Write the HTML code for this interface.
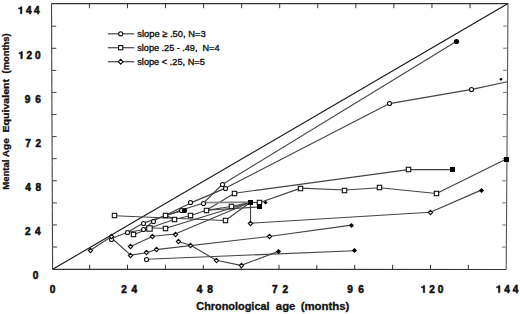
<!DOCTYPE html>
<html><head><meta charset="utf-8"><style>
html,body{margin:0;padding:0;background:#fff;}
body{width:520px;height:314px;overflow:hidden;font-family:"Liberation Sans",sans-serif;}
svg{display:block;}
</style></head><body>
<svg width="520" height="314" viewBox="0 0 520 314">
<rect width="520" height="314" fill="#fff"/>
<line x1="51.50" y1="3.60" x2="508.00" y2="3.60" stroke="#333" stroke-width="1.1"/>
<line x1="52.60" y1="269.30" x2="506.20" y2="269.50" stroke="#333" stroke-width="1.2"/>
<line x1="52.60" y1="269.30" x2="51.50" y2="3.60" stroke="#444" stroke-width="1.1"/>
<line x1="506.20" y1="269.50" x2="508.00" y2="3.60" stroke="#555" stroke-width="1.1"/>
<line x1="89.67" y1="269.32" x2="89.67" y2="264.72" stroke="#333" stroke-width="1.0"/>
<line x1="89.40" y1="3.60" x2="89.40" y2="8.20" stroke="#333" stroke-width="1.0"/>
<line x1="52.51" y1="247.02" x2="57.11" y2="247.02" stroke="#444" stroke-width="1.0"/>
<line x1="506.35" y1="247.10" x2="501.85" y2="247.10" stroke="#777" stroke-width="1.0"/>
<line x1="127.53" y1="269.33" x2="127.53" y2="264.73" stroke="#333" stroke-width="1.0"/>
<line x1="127.46" y1="3.60" x2="127.46" y2="8.20" stroke="#333" stroke-width="1.0"/>
<line x1="52.42" y1="224.94" x2="57.02" y2="224.94" stroke="#444" stroke-width="1.0"/>
<line x1="506.50" y1="225.00" x2="502.00" y2="225.00" stroke="#777" stroke-width="1.0"/>
<line x1="165.40" y1="269.35" x2="165.40" y2="264.75" stroke="#333" stroke-width="1.0"/>
<line x1="165.52" y1="3.60" x2="165.52" y2="8.20" stroke="#333" stroke-width="1.0"/>
<line x1="52.33" y1="202.86" x2="56.93" y2="202.86" stroke="#444" stroke-width="1.0"/>
<line x1="506.65" y1="202.90" x2="502.15" y2="202.90" stroke="#777" stroke-width="1.0"/>
<line x1="203.26" y1="269.37" x2="203.26" y2="264.77" stroke="#333" stroke-width="1.0"/>
<line x1="203.58" y1="3.60" x2="203.58" y2="8.20" stroke="#333" stroke-width="1.0"/>
<line x1="52.23" y1="180.78" x2="56.83" y2="180.78" stroke="#444" stroke-width="1.0"/>
<line x1="506.80" y1="180.80" x2="502.30" y2="180.80" stroke="#777" stroke-width="1.0"/>
<line x1="241.13" y1="269.38" x2="241.13" y2="264.78" stroke="#333" stroke-width="1.0"/>
<line x1="241.64" y1="3.60" x2="241.64" y2="8.20" stroke="#333" stroke-width="1.0"/>
<line x1="52.14" y1="158.70" x2="56.74" y2="158.70" stroke="#444" stroke-width="1.0"/>
<line x1="506.95" y1="158.70" x2="502.45" y2="158.70" stroke="#777" stroke-width="1.0"/>
<line x1="279.00" y1="269.40" x2="279.00" y2="264.80" stroke="#333" stroke-width="1.0"/>
<line x1="279.70" y1="3.60" x2="279.70" y2="8.20" stroke="#333" stroke-width="1.0"/>
<line x1="52.05" y1="136.62" x2="56.65" y2="136.62" stroke="#444" stroke-width="1.0"/>
<line x1="507.10" y1="136.60" x2="502.60" y2="136.60" stroke="#777" stroke-width="1.0"/>
<line x1="316.86" y1="269.42" x2="316.86" y2="264.82" stroke="#333" stroke-width="1.0"/>
<line x1="317.76" y1="3.60" x2="317.76" y2="8.20" stroke="#333" stroke-width="1.0"/>
<line x1="51.96" y1="114.54" x2="56.56" y2="114.54" stroke="#444" stroke-width="1.0"/>
<line x1="507.25" y1="114.50" x2="502.75" y2="114.50" stroke="#777" stroke-width="1.0"/>
<line x1="354.73" y1="269.43" x2="354.73" y2="264.83" stroke="#333" stroke-width="1.0"/>
<line x1="355.82" y1="3.60" x2="355.82" y2="8.20" stroke="#333" stroke-width="1.0"/>
<line x1="51.87" y1="92.46" x2="56.47" y2="92.46" stroke="#444" stroke-width="1.0"/>
<line x1="507.40" y1="92.40" x2="502.90" y2="92.40" stroke="#777" stroke-width="1.0"/>
<line x1="392.59" y1="269.45" x2="392.59" y2="264.85" stroke="#333" stroke-width="1.0"/>
<line x1="393.88" y1="3.60" x2="393.88" y2="8.20" stroke="#333" stroke-width="1.0"/>
<line x1="51.78" y1="70.38" x2="56.38" y2="70.38" stroke="#444" stroke-width="1.0"/>
<line x1="507.55" y1="70.30" x2="503.05" y2="70.30" stroke="#777" stroke-width="1.0"/>
<line x1="430.46" y1="269.47" x2="430.46" y2="264.87" stroke="#333" stroke-width="1.0"/>
<line x1="431.94" y1="3.60" x2="431.94" y2="8.20" stroke="#333" stroke-width="1.0"/>
<line x1="51.69" y1="48.30" x2="56.29" y2="48.30" stroke="#444" stroke-width="1.0"/>
<line x1="507.70" y1="48.20" x2="503.20" y2="48.20" stroke="#777" stroke-width="1.0"/>
<line x1="468.33" y1="269.48" x2="468.33" y2="264.88" stroke="#333" stroke-width="1.0"/>
<line x1="470.00" y1="3.60" x2="470.00" y2="8.20" stroke="#333" stroke-width="1.0"/>
<line x1="51.59" y1="26.22" x2="56.19" y2="26.22" stroke="#444" stroke-width="1.0"/>
<line x1="507.85" y1="26.10" x2="503.35" y2="26.10" stroke="#777" stroke-width="1.0"/>
<line x1="52.60" y1="269.30" x2="508.00" y2="3.60" stroke="#111" stroke-width="1.1"/>
<line x1="111.60" y1="238.50" x2="127.40" y2="232.30" stroke="#444" stroke-width="1.15"/>
<line x1="127.40" y1="232.30" x2="143.50" y2="223.10" stroke="#444" stroke-width="1.15"/>
<line x1="127.40" y1="232.30" x2="143.50" y2="229.70" stroke="#444" stroke-width="1.15"/>
<line x1="143.50" y1="223.10" x2="181.10" y2="210.30" stroke="#444" stroke-width="1.15"/>
<line x1="181.10" y1="210.30" x2="203.50" y2="203.00" stroke="#444" stroke-width="1.15"/>
<line x1="143.50" y1="229.70" x2="153.30" y2="221.00" stroke="#444" stroke-width="1.15"/>
<line x1="153.30" y1="221.00" x2="190.80" y2="202.90" stroke="#444" stroke-width="1.15"/>
<line x1="190.80" y1="202.90" x2="225.60" y2="188.10" stroke="#444" stroke-width="1.15"/>
<line x1="203.50" y1="203.00" x2="222.20" y2="184.50" stroke="#444" stroke-width="1.15"/>
<line x1="222.20" y1="184.50" x2="456.60" y2="41.30" stroke="#444" stroke-width="1.15"/>
<line x1="225.60" y1="188.10" x2="389.50" y2="103.60" stroke="#444" stroke-width="1.15"/>
<line x1="389.50" y1="103.60" x2="471.90" y2="89.40" stroke="#444" stroke-width="1.15"/>
<line x1="471.90" y1="89.40" x2="507.50" y2="81.80" stroke="#444" stroke-width="1.15"/>
<line x1="165.70" y1="215.40" x2="184.50" y2="210.20" stroke="#444" stroke-width="1.15"/>
<line x1="114.80" y1="215.80" x2="225.30" y2="220.50" stroke="#444" stroke-width="1.15"/>
<line x1="165.70" y1="215.60" x2="174.90" y2="219.20" stroke="#444" stroke-width="1.15"/>
<line x1="133.90" y1="234.80" x2="149.50" y2="228.00" stroke="#444" stroke-width="1.15"/>
<line x1="149.50" y1="228.00" x2="174.90" y2="219.20" stroke="#444" stroke-width="1.15"/>
<line x1="149.50" y1="228.00" x2="165.80" y2="228.30" stroke="#444" stroke-width="1.15"/>
<line x1="174.90" y1="219.20" x2="190.90" y2="215.50" stroke="#444" stroke-width="1.15"/>
<line x1="190.90" y1="215.50" x2="206.30" y2="210.30" stroke="#444" stroke-width="1.15"/>
<line x1="206.30" y1="210.30" x2="234.50" y2="193.20" stroke="#444" stroke-width="1.15"/>
<line x1="206.30" y1="210.30" x2="231.30" y2="206.50" stroke="#444" stroke-width="1.15"/>
<line x1="206.30" y1="210.30" x2="259.30" y2="206.90" stroke="#444" stroke-width="1.15"/>
<line x1="231.30" y1="206.50" x2="250.50" y2="202.20" stroke="#444" stroke-width="1.15"/>
<line x1="165.80" y1="228.30" x2="250.50" y2="202.20" stroke="#444" stroke-width="1.15"/>
<line x1="225.30" y1="220.50" x2="250.50" y2="202.20" stroke="#444" stroke-width="1.15"/>
<line x1="234.50" y1="193.20" x2="408.40" y2="169.60" stroke="#444" stroke-width="1.15"/>
<line x1="408.40" y1="169.60" x2="452.40" y2="169.60" stroke="#444" stroke-width="1.15"/>
<line x1="250.50" y1="202.20" x2="259.30" y2="202.80" stroke="#444" stroke-width="1.15"/>
<line x1="259.30" y1="202.80" x2="300.80" y2="188.10" stroke="#444" stroke-width="1.15"/>
<line x1="300.80" y1="188.10" x2="344.80" y2="190.00" stroke="#444" stroke-width="1.15"/>
<line x1="344.80" y1="190.00" x2="379.80" y2="187.80" stroke="#444" stroke-width="1.15"/>
<line x1="379.80" y1="187.80" x2="436.50" y2="193.50" stroke="#444" stroke-width="1.15"/>
<line x1="436.50" y1="193.50" x2="506.40" y2="159.10" stroke="#444" stroke-width="1.15"/>
<line x1="90.00" y1="250.60" x2="111.60" y2="236.50" stroke="#444" stroke-width="1.15"/>
<line x1="111.60" y1="238.00" x2="130.60" y2="255.10" stroke="#444" stroke-width="1.15"/>
<line x1="130.60" y1="255.10" x2="146.70" y2="252.80" stroke="#444" stroke-width="1.15"/>
<line x1="146.70" y1="252.80" x2="156.10" y2="249.60" stroke="#444" stroke-width="1.15"/>
<line x1="156.10" y1="249.60" x2="269.00" y2="236.50" stroke="#444" stroke-width="1.15"/>
<line x1="269.00" y1="236.50" x2="351.50" y2="225.10" stroke="#444" stroke-width="1.15"/>
<line x1="130.60" y1="246.40" x2="152.90" y2="236.20" stroke="#444" stroke-width="1.15"/>
<line x1="152.90" y1="236.20" x2="175.10" y2="234.00" stroke="#444" stroke-width="1.15"/>
<line x1="175.10" y1="234.00" x2="250.50" y2="202.20" stroke="#444" stroke-width="1.15"/>
<line x1="250.50" y1="202.20" x2="250.50" y2="223.20" stroke="#444" stroke-width="1.15"/>
<line x1="250.50" y1="223.20" x2="430.30" y2="212.20" stroke="#444" stroke-width="1.15"/>
<line x1="430.30" y1="212.20" x2="481.10" y2="190.10" stroke="#444" stroke-width="1.15"/>
<line x1="146.50" y1="259.20" x2="354.40" y2="250.80" stroke="#444" stroke-width="1.15"/>
<line x1="178.10" y1="241.50" x2="190.70" y2="245.30" stroke="#444" stroke-width="1.15"/>
<line x1="190.70" y1="245.30" x2="216.20" y2="260.20" stroke="#444" stroke-width="1.15"/>
<line x1="216.20" y1="260.20" x2="241.00" y2="265.40" stroke="#444" stroke-width="1.15"/>
<line x1="241.00" y1="265.40" x2="278.50" y2="251.30" stroke="#444" stroke-width="1.15"/>
<line x1="203.50" y1="202.70" x2="250.50" y2="202.20" stroke="#8a8a8a" stroke-width="1.8"/>
<circle cx="146.5" cy="259.5" r="2.05" fill="#fff" stroke="#111" stroke-width="1.1"/>
<circle cx="111.5" cy="239.5" r="2.05" fill="#fff" stroke="#111" stroke-width="1.1"/>
<circle cx="127.5" cy="232.5" r="2.05" fill="#fff" stroke="#111" stroke-width="1.1"/>
<circle cx="143.5" cy="223.5" r="2.05" fill="#fff" stroke="#111" stroke-width="1.1"/>
<circle cx="143.5" cy="229.5" r="2.05" fill="#fff" stroke="#111" stroke-width="1.1"/>
<circle cx="153.5" cy="221.5" r="2.05" fill="#fff" stroke="#111" stroke-width="1.1"/>
<circle cx="181.5" cy="210.5" r="2.05" fill="#fff" stroke="#111" stroke-width="1.1"/>
<circle cx="190.5" cy="202.5" r="2.05" fill="#fff" stroke="#111" stroke-width="1.1"/>
<circle cx="203.5" cy="203.5" r="2.05" fill="#fff" stroke="#111" stroke-width="1.1"/>
<circle cx="222.5" cy="184.5" r="2.05" fill="#fff" stroke="#111" stroke-width="1.1"/>
<circle cx="225.5" cy="188.5" r="2.05" fill="#fff" stroke="#111" stroke-width="1.1"/>
<circle cx="389.5" cy="103.5" r="2.05" fill="#fff" stroke="#111" stroke-width="1.1"/>
<circle cx="471.5" cy="89.5" r="2.05" fill="#fff" stroke="#111" stroke-width="1.1"/>
<circle cx="184.5" cy="210.5" r="2.6" fill="#000"/>
<circle cx="456.5" cy="41.5" r="2.6" fill="#000"/>
<circle cx="501.0" cy="79.3" r="1.3" fill="#000"/>
<rect x="112.30" y="213.30" width="4.4" height="4.4" fill="#fff" stroke="#111" stroke-width="1.1"/>
<rect x="131.30" y="232.30" width="4.4" height="4.4" fill="#fff" stroke="#111" stroke-width="1.1"/>
<rect x="146.80" y="225.80" width="5.4" height="5.4" fill="#fff" stroke="#111" stroke-width="1.1"/>
<rect x="163.30" y="213.30" width="4.4" height="4.4" fill="#fff" stroke="#111" stroke-width="1.1"/>
<rect x="163.30" y="226.30" width="4.4" height="4.4" fill="#fff" stroke="#111" stroke-width="1.1"/>
<rect x="172.30" y="217.30" width="4.4" height="4.4" fill="#fff" stroke="#111" stroke-width="1.1"/>
<rect x="188.30" y="213.30" width="4.4" height="4.4" fill="#fff" stroke="#111" stroke-width="1.1"/>
<rect x="204.30" y="208.30" width="4.4" height="4.4" fill="#fff" stroke="#111" stroke-width="1.1"/>
<rect x="223.30" y="218.30" width="4.4" height="4.4" fill="#fff" stroke="#111" stroke-width="1.1"/>
<rect x="229.30" y="204.30" width="4.4" height="4.4" fill="#fff" stroke="#111" stroke-width="1.1"/>
<rect x="232.30" y="191.30" width="4.4" height="4.4" fill="#fff" stroke="#111" stroke-width="1.1"/>
<rect x="257.30" y="200.30" width="4.4" height="4.4" fill="#fff" stroke="#111" stroke-width="1.1"/>
<rect x="298.30" y="186.30" width="4.4" height="4.4" fill="#fff" stroke="#111" stroke-width="1.1"/>
<rect x="342.30" y="188.30" width="4.4" height="4.4" fill="#fff" stroke="#111" stroke-width="1.1"/>
<rect x="377.30" y="185.30" width="4.4" height="4.4" fill="#fff" stroke="#111" stroke-width="1.1"/>
<rect x="406.30" y="167.30" width="4.4" height="4.4" fill="#fff" stroke="#111" stroke-width="1.1"/>
<rect x="434.30" y="191.30" width="4.4" height="4.4" fill="#fff" stroke="#111" stroke-width="1.1"/>
<rect x="248.00" y="200.00" width="5.0" height="5.0" fill="#000"/>
<rect x="257.00" y="204.00" width="5.0" height="5.0" fill="#000"/>
<rect x="450.00" y="167.00" width="5.0" height="5.0" fill="#000"/>
<rect x="504.00" y="157.00" width="5.0" height="5.0" fill="#000"/>
<path d="M88.35 250.50L90.50 248.35L92.65 250.50L90.50 252.65Z" fill="#fff" stroke="#111" stroke-width="1.1"/>
<path d="M109.35 236.50L111.50 234.35L113.65 236.50L111.50 238.65Z" fill="#fff" stroke="#111" stroke-width="1.1"/>
<path d="M128.35 246.50L130.50 244.35L132.65 246.50L130.50 248.65Z" fill="#fff" stroke="#111" stroke-width="1.1"/>
<path d="M128.35 255.50L130.50 253.35L132.65 255.50L130.50 257.65Z" fill="#fff" stroke="#111" stroke-width="1.1"/>
<path d="M144.35 252.50L146.50 250.35L148.65 252.50L146.50 254.65Z" fill="#fff" stroke="#111" stroke-width="1.1"/>
<path d="M154.35 249.50L156.50 247.35L158.65 249.50L156.50 251.65Z" fill="#fff" stroke="#111" stroke-width="1.1"/>
<path d="M150.35 236.50L152.50 234.35L154.65 236.50L152.50 238.65Z" fill="#fff" stroke="#111" stroke-width="1.1"/>
<path d="M173.35 234.50L175.50 232.35L177.65 234.50L175.50 236.65Z" fill="#fff" stroke="#111" stroke-width="1.1"/>
<path d="M176.35 241.50L178.50 239.35L180.65 241.50L178.50 243.65Z" fill="#fff" stroke="#111" stroke-width="1.1"/>
<path d="M188.35 245.50L190.50 243.35L192.65 245.50L190.50 247.65Z" fill="#fff" stroke="#111" stroke-width="1.1"/>
<path d="M214.35 260.50L216.50 258.35L218.65 260.50L216.50 262.65Z" fill="#fff" stroke="#111" stroke-width="1.1"/>
<path d="M239.35 265.50L241.50 263.35L243.65 265.50L241.50 267.65Z" fill="#fff" stroke="#111" stroke-width="1.1"/>
<path d="M248.35 223.50L250.50 221.35L252.65 223.50L250.50 225.65Z" fill="#fff" stroke="#111" stroke-width="1.1"/>
<path d="M267.35 236.50L269.50 234.35L271.65 236.50L269.50 238.65Z" fill="#fff" stroke="#111" stroke-width="1.1"/>
<path d="M428.35 212.50L430.50 210.35L432.65 212.50L430.50 214.65Z" fill="#fff" stroke="#111" stroke-width="1.1"/>
<path d="M263.40 202.50L265.50 200.40L267.60 202.50L265.50 204.60Z" fill="#000"/>
<path d="M275.90 251.50L278.50 248.90L281.10 251.50L278.50 254.10Z" fill="#000"/>
<path d="M348.90 225.50L351.50 222.90L354.10 225.50L351.50 228.10Z" fill="#000"/>
<path d="M351.90 250.50L354.50 247.90L357.10 250.50L354.50 253.10Z" fill="#000"/>
<path d="M478.90 190.50L481.50 187.90L484.10 190.50L481.50 193.10Z" fill="#000"/>
<line x1="107.80" y1="33.80" x2="134.30" y2="33.80" stroke="#555" stroke-width="1.3"/>
<line x1="107.80" y1="47.70" x2="134.30" y2="47.70" stroke="#555" stroke-width="1.3"/>
<line x1="107.80" y1="61.70" x2="134.30" y2="61.70" stroke="#555" stroke-width="1.3"/>
<circle cx="120.7" cy="33.8" r="2.05" fill="#fff" stroke="#111" stroke-width="1.1"/>
<rect x="118.60000000000001" y="45.6" width="4.2" height="4.2" fill="#fff" stroke="#111" stroke-width="1.1"/>
<path d="M118.3 61.7L120.7 59.300000000000004L123.10000000000001 61.7L120.7 64.10000000000001Z" fill="#fff" stroke="#111" stroke-width="1.1"/>
<text x="137.24" y="36.50" textLength="68.38" lengthAdjust="spacingAndGlyphs" xml:space="preserve" font-family="Liberation Sans, sans-serif" font-size="9.4" fill="#111" stroke="#111" stroke-width="0.35">slope ≥ .50, N=3</text>
<text x="137.25" y="50.50" textLength="82.22" lengthAdjust="spacingAndGlyphs" xml:space="preserve" font-family="Liberation Sans, sans-serif" font-size="9.4" fill="#111" stroke="#111" stroke-width="0.35">slope .25 - .49,  N=4</text>
<text x="137.24" y="64.80" textLength="67.55" lengthAdjust="spacingAndGlyphs" xml:space="preserve" font-family="Liberation Sans, sans-serif" font-size="9.4" fill="#111" stroke="#111" stroke-width="0.35">slope &lt; .25, N=5</text>
<path d="M21.93 13.80 L21.93 6.70 L20.77 6.70 L20.52 7.18 L19.86 7.69 L18.60 7.89 L18.60 8.90 L20.42 8.90 L20.42 13.80 Z" fill="#111" stroke="#111" stroke-width="0.55"/>
<text x="25.94" y="13.80" font-family="Liberation Sans, sans-serif" font-weight="bold" font-size="10.1" fill="#111" stroke="#111" stroke-width="0.55">4</text>
<text x="34.03" y="13.80" font-family="Liberation Sans, sans-serif" font-weight="bold" font-size="10.1" fill="#111" stroke="#111" stroke-width="0.55">4</text>
<path d="M22.33 58.70 L22.33 51.60 L21.17 51.60 L20.92 52.08 L20.26 52.59 L19.00 52.79 L19.00 53.80 L20.82 53.80 L20.82 58.70 Z" fill="#111" stroke="#111" stroke-width="0.55"/>
<text x="26.62" y="58.70" font-family="Liberation Sans, sans-serif" font-weight="bold" font-size="10.1" fill="#111" stroke="#111" stroke-width="0.55">2</text>
<text x="35.00" y="58.70" font-family="Liberation Sans, sans-serif" font-weight="bold" font-size="10.1" fill="#111" stroke="#111" stroke-width="0.55">0</text>
<text x="24.85" y="102.80" font-family="Liberation Sans, sans-serif" font-weight="bold" font-size="10.1" fill="#111" stroke="#111" stroke-width="0.55">9</text>
<text x="35.35" y="102.80" font-family="Liberation Sans, sans-serif" font-weight="bold" font-size="10.1" fill="#111" stroke="#111" stroke-width="0.55">6</text>
<text x="25.17" y="146.80" font-family="Liberation Sans, sans-serif" font-weight="bold" font-size="10.1" fill="#111" stroke="#111" stroke-width="0.55">7</text>
<text x="35.39" y="146.80" font-family="Liberation Sans, sans-serif" font-weight="bold" font-size="10.1" fill="#111" stroke="#111" stroke-width="0.55">2</text>
<text x="25.15" y="191.00" font-family="Liberation Sans, sans-serif" font-weight="bold" font-size="10.1" fill="#111" stroke="#111" stroke-width="0.55">4</text>
<text x="35.40" y="191.00" font-family="Liberation Sans, sans-serif" font-weight="bold" font-size="10.1" fill="#111" stroke="#111" stroke-width="0.55">8</text>
<text x="25.05" y="235.30" font-family="Liberation Sans, sans-serif" font-weight="bold" font-size="10.1" fill="#111" stroke="#111" stroke-width="0.55">2</text>
<text x="35.03" y="235.30" font-family="Liberation Sans, sans-serif" font-weight="bold" font-size="10.1" fill="#111" stroke="#111" stroke-width="0.55">4</text>
<text x="32.70" y="278.50" font-family="Liberation Sans, sans-serif" font-weight="bold" font-size="10.1" fill="#111" stroke="#111" stroke-width="0.55">0</text>
<text x="49.80" y="292.60" font-family="Liberation Sans, sans-serif" font-weight="bold" font-size="10.1" fill="#111" stroke="#111" stroke-width="0.55">0</text>
<text x="121.35" y="292.60" font-family="Liberation Sans, sans-serif" font-weight="bold" font-size="10.1" fill="#111" stroke="#111" stroke-width="0.55">2</text>
<text x="131.43" y="292.60" font-family="Liberation Sans, sans-serif" font-weight="bold" font-size="10.1" fill="#111" stroke="#111" stroke-width="0.55">4</text>
<text x="196.85" y="292.60" font-family="Liberation Sans, sans-serif" font-weight="bold" font-size="10.1" fill="#111" stroke="#111" stroke-width="0.55">4</text>
<text x="207.30" y="292.60" font-family="Liberation Sans, sans-serif" font-weight="bold" font-size="10.1" fill="#111" stroke="#111" stroke-width="0.55">8</text>
<text x="272.07" y="292.60" font-family="Liberation Sans, sans-serif" font-weight="bold" font-size="10.1" fill="#111" stroke="#111" stroke-width="0.55">7</text>
<text x="282.59" y="292.60" font-family="Liberation Sans, sans-serif" font-weight="bold" font-size="10.1" fill="#111" stroke="#111" stroke-width="0.55">2</text>
<text x="347.35" y="292.60" font-family="Liberation Sans, sans-serif" font-weight="bold" font-size="10.1" fill="#111" stroke="#111" stroke-width="0.55">9</text>
<text x="358.15" y="292.60" font-family="Liberation Sans, sans-serif" font-weight="bold" font-size="10.1" fill="#111" stroke="#111" stroke-width="0.55">6</text>
<path d="M424.73 292.60 L424.73 285.50 L423.57 285.50 L423.32 285.98 L422.66 286.49 L421.40 286.69 L421.40 287.70 L423.22 287.70 L423.22 292.60 Z" fill="#111" stroke="#111" stroke-width="0.55"/>
<text x="429.22" y="292.60" font-family="Liberation Sans, sans-serif" font-weight="bold" font-size="10.1" fill="#111" stroke="#111" stroke-width="0.55">2</text>
<text x="437.80" y="292.60" font-family="Liberation Sans, sans-serif" font-weight="bold" font-size="10.1" fill="#111" stroke="#111" stroke-width="0.55">0</text>
<path d="M499.93 292.60 L499.93 285.50 L498.77 285.50 L498.52 285.98 L497.86 286.49 L496.60 286.69 L496.60 287.70 L498.42 287.70 L498.42 292.60 Z" fill="#111" stroke="#111" stroke-width="0.55"/>
<text x="504.24" y="292.60" font-family="Liberation Sans, sans-serif" font-weight="bold" font-size="10.1" fill="#111" stroke="#111" stroke-width="0.55">4</text>
<text x="512.63" y="292.60" font-family="Liberation Sans, sans-serif" font-weight="bold" font-size="10.1" fill="#111" stroke="#111" stroke-width="0.55">4</text>
<text x="196.25" y="309.60" textLength="73.32" lengthAdjust="spacingAndGlyphs" font-family="Liberation Sans, sans-serif" font-weight="bold" font-size="10.6" fill="#111" stroke="#111" stroke-width="0.3">Chronological</text>
<text x="275.87" y="309.60" textLength="19.52" lengthAdjust="spacingAndGlyphs" font-family="Liberation Sans, sans-serif" font-weight="bold" font-size="10.6" fill="#111" stroke="#111" stroke-width="0.3">age</text>
<text x="300.73" y="309.60" textLength="48.64" lengthAdjust="spacingAndGlyphs" font-family="Liberation Sans, sans-serif" font-weight="bold" font-size="10.6" fill="#111" stroke="#111" stroke-width="0.3">(months)</text>
<g transform="translate(8.8,189.2) rotate(-90)"><text x="-0.44" y="0.00" textLength="30.11" lengthAdjust="spacingAndGlyphs" font-family="Liberation Sans, sans-serif" font-weight="bold" font-size="9.2" fill="#111" stroke="#111" stroke-width="0.3">Mental</text><text x="32.05" y="0.00" textLength="18.89" lengthAdjust="spacingAndGlyphs" font-family="Liberation Sans, sans-serif" font-weight="bold" font-size="9.2" fill="#111" stroke="#111" stroke-width="0.3">Age</text><text x="56.59" y="0.00" textLength="53.74" lengthAdjust="spacingAndGlyphs" font-family="Liberation Sans, sans-serif" font-weight="bold" font-size="9.2" fill="#111" stroke="#111" stroke-width="0.3">Equivalent</text><text x="115.73" y="0.00" textLength="40.14" lengthAdjust="spacingAndGlyphs" font-family="Liberation Sans, sans-serif" font-weight="bold" font-size="9.2" fill="#111" stroke="#111" stroke-width="0.3">(months)</text></g>
</svg>
</body></html>
